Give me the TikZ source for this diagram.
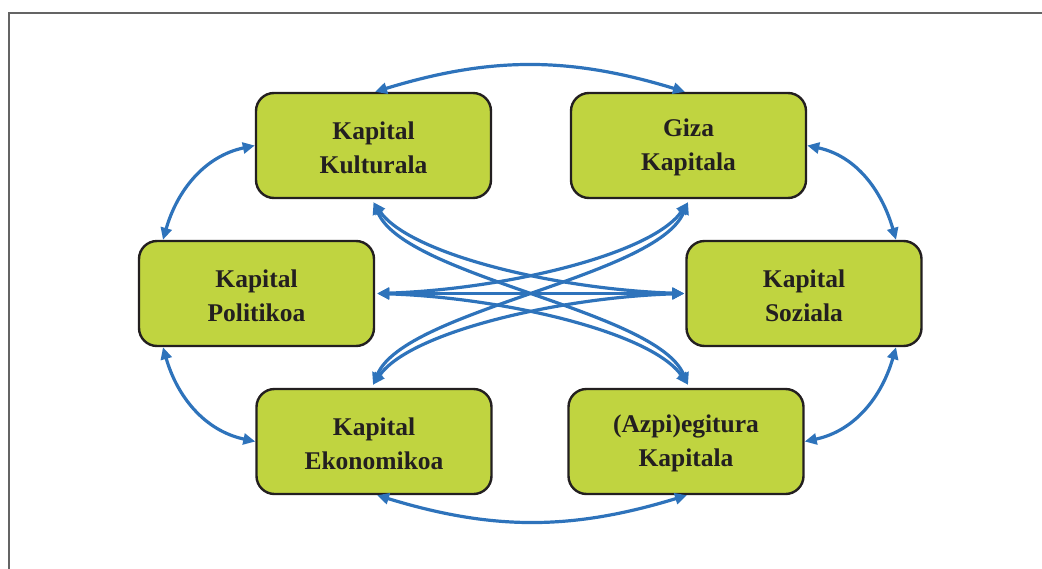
\documentclass[tikz,border=0pt]{standalone}
\usepackage{fontspec}
\setmainfont{Liberation Serif}
\usetikzlibrary{arrows.meta,calc}
\definecolor{boxgreen}{RGB}{192,212,64}
\definecolor{boxline}{RGB}{35,31,32}
\definecolor{arrowblue}{RGB}{46,115,187}
\definecolor{framegray}{RGB}{100,100,100}
\begin{document}
\begin{tikzpicture}[x=1pt,y=1pt,
  capbox/.style={draw=boxline, fill=boxgreen, line width=2.4pt, rounded corners=18pt,
    minimum width=235pt, minimum height=105pt, align=center, inner sep=0pt,
    font=\fontsize{25.5}{34}\selectfont\bfseries, text=boxline},
  capstext/.style={align=center, inner sep=0pt,
    font=\fontsize{25.5}{34}\selectfont\bfseries, text=boxline},
  link/.style={draw=arrowblue, line width=3.2pt,
    {Triangle[length=12pt,width=11pt]}-{Triangle[length=12pt,width=11pt]}}]
\useasboundingbox (0,0) rectangle (1042,-568);
\draw[framegray, line width=1.4pt] (9,-570) -- (9,-13) -- (1044,-13);

\node[capbox] (Kul) at (373.5,-145.5) {};
\node[capbox] (Giz) at (688.5,-145.5) {};
\node[capbox] (Pol) at (256.5,-293.5) {};
\node[capbox] (Soz) at (804,-293.5) {};
\node[capbox] (Eko) at (374,-441.5) {};
\node[capbox] (Azp) at (686,-441.5) {};
\node[capstext] (KulL) at ($(Kul.center)+(0,-2)$) {Kapital\\Kulturala};
\node[capstext] (GizL) at ($(Giz.center)+(0,-2)$) {Giza\\Kapitala};
\node[capstext] (PolL) at ($(Pol.center)+(0,-2)$) {Kapital\\Politikoa};
\node[capstext] (SozL0) at ($(Soz.center)+(0,-2)$) {Kapital\\Soziala};
\node[capstext] (EkoL) at ($(Eko.center)+(0,-2)$) {Kapital\\Ekonomikoa};
\node[capstext] (AzpL) at ($(Azp.center)+(0,-2)$) {(Azpi)egitura\\Kapitala};

% anchor points
\coordinate (KulB) at ($(Kul.south)+(0,-3)$);
\coordinate (GizB) at ($(Giz.south)+(-0.5,-3)$);
\coordinate (AzpT) at ($(Azp.north)+(2,3)$);
\coordinate (EkoT) at ($(Eko.north)+(-1,3)$);
\coordinate (PolR) at ($(Pol.east)+(2,0)$);
\coordinate (SozL) at ($(Soz.west)+(-1,0)$);
\coordinate (KulT) at ($(Kul.north)+(1.5,0)$);
\coordinate (GizT) at ($(Giz.north)+(-3.5,0)$);
\coordinate (EkoD) at ($(Eko.south)+(3,0)$);
\coordinate (AzpD) at ($(Azp.south)+(1,0)$);
\coordinate (PolTL) at ($(Pol.north)+(-93.5,0)$);
\coordinate (PolBL) at ($(Pol.south)+(-93.5,0)$);
\coordinate (SozTR) at ($(Soz.north)+(92,0)$);
\coordinate (SozBR) at ($(Soz.south)+(92,0)$);

% outer ring
\draw[link] (KulT) to[bend left=17] (GizT);
\draw[link] (EkoD) to[bend right=17] (AzpD);
\draw[link] (PolTL) to[out=74,in=192] (Kul.west);
\draw[link] (SozTR) to[out=106,in=-12] (Giz.east);
\draw[link] (PolBL) to[out=-74,in=168] (Eko.west);
\draw[link] (SozBR) to[out=-106,in=12] (Azp.east);

% cross links
\draw[link] (PolR) -- (SozL);
\draw[link] (KulB) .. controls +(37,-53) and +(-125,4) .. (SozL);
\draw[link] (EkoT) .. controls +(37,53) and +(-125,-4) .. (SozL);
\draw[link] (GizB) .. controls +(-37,-53) and +(125,4) .. (PolR);
\draw[link] (AzpT) .. controls +(-37,53) and +(125,-4) .. (PolR);
\draw[link] (KulB) .. controls +(32,-75) and +(-32,75) .. (AzpT);
\draw[link] (GizB) .. controls +(-32,-75) and +(32,75) .. (EkoT);
\end{tikzpicture}
\end{document}
